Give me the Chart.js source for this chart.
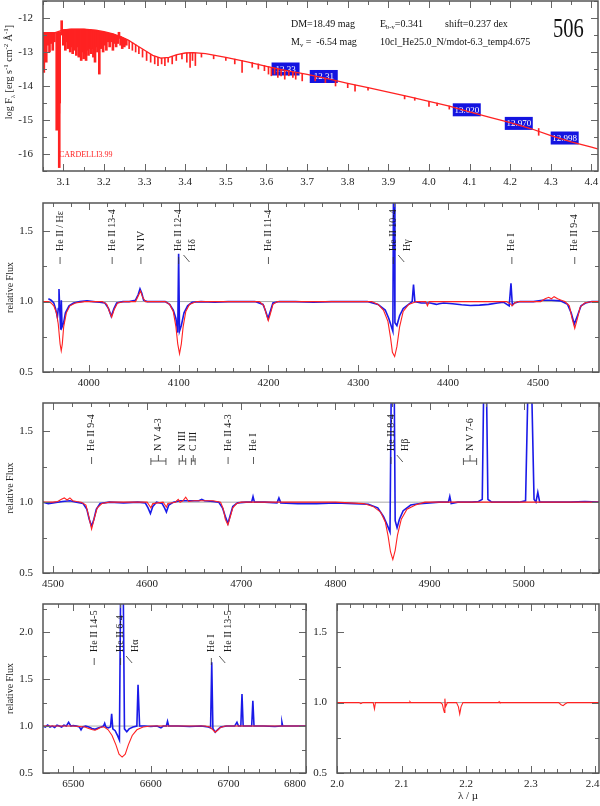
<!DOCTYPE html>
<html>
<head>
<meta charset="utf-8">
<script src="https://cdn.jsdelivr.net/npm/chart.js@4/dist/chart.umd.min.js"></script>
<style>
body { margin: 0; background: #fff; }
#wrap { position: relative; width: 600px; height: 806px; overflow: hidden; }
canvas { position: absolute; }
</style>
</head>
<body>
<div id="wrap">
  <canvas id="c1" width="600" height="195" style="left:0;top:0"></canvas>
  <canvas id="c2" width="600" height="200" style="left:0;top:195px"></canvas>
  <canvas id="c3" width="600" height="200" style="left:0;top:395px"></canvas>
  <canvas id="c4" width="320" height="211" style="left:0;top:595px"></canvas>
  <canvas id="c5" width="300" height="211" style="left:300px;top:595px"></canvas>
</div>
<script>
// ---- panel 1: SED, log F_lambda vs log lambda ----
const topLogLam = [3.05, 3.06, 3.08, 3.10, 3.12, 3.15, 3.18, 3.20, 3.22, 3.24, 3.26, 3.28, 3.30, 3.32, 3.34, 3.36, 3.38, 3.40, 3.42, 3.45,
  3.50, 3.55, 3.60, 3.65, 3.70, 3.75, 3.80, 3.85, 3.90, 3.95, 4.00, 4.05, 4.10, 4.15, 4.20, 4.25, 4.30, 4.35, 4.40, 4.415];
const topLogFlux = [-12.43, -12.43, -12.43, -12.35, -12.33, -12.33, -12.36, -12.40, -12.46, -12.54, -12.65, -12.80, -12.95, -13.10, -13.18, -13.16, -13.08, -13.03, -13.02, -13.05,
  -13.16, -13.28, -13.42, -13.55, -13.66, -13.78, -13.92, -14.05, -14.18, -14.31, -14.45, -14.59, -14.76, -14.92, -15.08, -15.25, -15.46, -15.64, -15.80, -15.85];

// absorption line forest: position, top and bottom of each line
const forestLam = [3.052, 3.055, 3.058, 3.062, 3.066, 3.070, 3.074, 3.078, 3.0838, 3.0865, 3.089, 3.090, 3.091, 3.096,
  3.100, 3.102, 3.105, 3.108, 3.111, 3.114, 3.117, 3.120, 3.123, 3.126, 3.129, 3.132, 3.135, 3.138, 3.141, 3.144, 3.147, 3.150, 3.153,
  3.156, 3.159, 3.162, 3.165, 3.168, 3.171, 3.174, 3.178, 3.181, 3.184, 3.1886, 3.192, 3.195, 3.198, 3.202, 3.206, 3.210, 3.214,
  3.218, 3.222, 3.226, 3.230, 3.234, 3.237, 3.241, 3.245, 3.250, 3.255, 3.262, 3.270, 3.278, 3.286, 3.295, 3.305, 3.315, 3.325,
  3.333, 3.342, 3.350, 3.358, 3.368, 3.378, 3.392, 3.404, 3.412, 3.418, 3.425, 3.44, 3.47, 3.50, 3.522, 3.54, 3.565, 3.58, 3.595,
  3.605, 3.612, 3.62, 3.628, 3.636, 3.645, 3.655, 3.665, 3.672, 3.688, 3.72, 3.745, 3.77, 3.80, 3.818, 3.85, 3.94, 3.965, 4.0,
  4.02, 4.05, 4.27];
const forestHigh = [-12.43, -12.43, -12.43, -12.43, -12.43, -12.43, -12.43, -12.43, -12.43, -12.43, -12.42, -12.42, -12.41, -12.08,
  -12.35, -12.35, -12.35, -12.34, -12.34, -12.33, -12.33, -12.33, -12.33, -12.33, -12.33, -12.33, -12.33, -12.33, -12.33, -12.33, -12.33, -12.33, -12.33,
  -12.34, -12.34, -12.35, -12.35, -12.35, -12.36, -12.36, -12.37, -12.37, -12.38, -12.39, -12.40, -12.40, -12.41, -12.42, -12.43, -12.44, -12.45,
  -12.46, -12.47, -12.49, -12.51, -12.52, -12.42, -12.55, -12.57, -12.60, -12.63, -12.67, -12.73, -12.79, -12.86, -12.93, -13.00, -13.07, -13.13,
  -13.16, -13.18, -13.18, -13.17, -13.13, -13.09, -13.05, -13.03, -13.02, -13.02, -13.03, -13.04, -13.10, -13.16, -13.21, -13.25, -13.31, -13.35, -13.40,
  -13.43, -13.45, -13.47, -13.49, -13.51, -13.54, -13.57, -13.60, -13.62, -13.65, -13.73, -13.79, -13.86, -13.92, -13.97, -14.05, -14.29, -14.35, -14.45,
  -14.50, -14.59, -15.25];
const forestLow = [-13.6, -12.9, -13.3, -12.8, -13.0, -12.75, -12.95, -12.7, -15.3, -12.9, -14.8, -16.4, -14.5, -12.5,
  -12.8, -12.75, -12.95, -12.7, -12.9, -12.8, -13.0, -12.85, -13.05, -12.8, -12.95, -13.1, -12.85, -13.15, -12.95, -13.25, -13.0, -13.2, -13.05,
  -13.25, -12.95, -13.1, -12.9, -13.05, -12.9, -13.15, -13.3, -12.85, -13.0, -13.65, -12.9, -12.75, -13.0, -12.8, -12.95, -12.7, -12.85,
  -12.7, -12.95, -12.75, -12.85, -12.75, -12.6, -12.8, -12.9, -12.85, -12.8, -12.9, -12.95, -13.0, -13.05, -13.15, -13.25, -13.3, -13.35,
  -13.4, -13.35, -13.4, -13.3, -13.35, -13.25, -13.2, -13.3, -13.45, -13.25, -13.4, -13.15, -13.2, -13.25, -13.35, -13.6, -13.45, -13.5, -13.55,
  -13.65, -13.7, -13.65, -13.75, -13.7, -13.8, -13.7, -13.75, -13.8, -13.85, -13.85, -13.9, -14.0, -14.05, -14.15, -14.12, -14.38, -14.42, -14.6,
  -14.58, -14.68, -15.45];
// lines bluer than this are blended into a dense forest
const forestDenseEnd = 3.26;

// photometry boxes
const photLogLam = [3.647, 3.741, 4.093, 4.221, 4.334];
const photLogFlux = [-13.50, -13.72, -14.70, -15.10, -15.53];
const photMag = ['12.33', '12.31', '13.020', '12.970', '12.998'];

const topXTicks = [3.1, 3.2, 3.3, 3.4, 3.5, 3.6, 3.7, 3.8, 3.9, 4.0, 4.1, 4.2, 4.3, 4.4];
const topYTicks = [-16, -15, -14, -13, -12];

// ---- panel 2: 3950-4570 A ----
const p2ModelLam = [3949, 3955, 3958, 3961, 3964, 3966, 3968, 3969.3, 3970.5, 3972, 3975, 3979, 3985, 3995, 4015, 4020, 4023, 4025.5, 4028, 4032,
  4040, 4052, 4055, 4057.5, 4060, 4063, 4085, 4090, 4094, 4097, 4099, 4101, 4103, 4105, 4108, 4112, 4120, 4190, 4195, 4198,
  4199.8, 4202, 4205, 4210, 4315, 4322, 4328, 4333, 4336, 4338, 4340.5, 4343, 4346, 4350, 4356, 4365, 4375, 4377, 4379, 4465,
  4469, 4471.5, 4474, 4478, 4503, 4508, 4512, 4515, 4518, 4522, 4526, 4530, 4535, 4538, 4541, 4544, 4547, 4552, 4560, 4568];
const p2Model = [1.0, 1.0, 0.99, 0.97, 0.92, 0.84, 0.70, 0.65, 0.70, 0.82, 0.92, 0.97, 0.99, 1.0, 1.0, 0.98, 0.93, 0.89, 0.94, 0.99,
  1.0, 1.0, 1.04, 1.075, 1.03, 1.0, 1.0, 0.98, 0.93, 0.82, 0.70, 0.63, 0.70, 0.82, 0.93, 0.98, 1.0, 1.0, 0.97, 0.90,
  0.865, 0.91, 0.98, 1.0, 1.0, 0.98, 0.94, 0.86, 0.74, 0.64, 0.61, 0.68, 0.82, 0.93, 0.98, 1.0, 1.0, 0.97, 1.0, 1.0,
  0.985, 0.97, 0.99, 1.0, 1.0, 1.02, 1.03, 1.02, 1.035, 1.02, 1.01, 1.0, 0.97, 0.88, 0.81, 0.88, 0.96, 0.99, 1.0, 1.0];
const p2ObsLam = [3955, 3958, 3961, 3963, 3965, 3966, 3966.8, 3967.6, 3968.7, 3969.4, 3970.2, 3972, 3974, 3978, 3983, 3990, 3998, 4005, 4012, 4018,
  4022, 4025, 4028, 4031, 4038, 4045, 4052, 4055, 4057, 4059, 4061, 4065, 4078, 4085, 4090, 4094, 4097, 4099, 4100, 4101,
  4103, 4106, 4110, 4115, 4125, 4140, 4155, 4170, 4185, 4194, 4197, 4199.5, 4202, 4205, 4212, 4230, 4250, 4270, 4290, 4310,
  4322, 4330, 4334, 4337, 4338.5, 4339.2, 4340, 4340.8, 4343, 4346, 4350, 4356, 4360, 4361.5, 4363, 4370, 4380, 4387, 4390, 4395,
  4405, 4415, 4425, 4435, 4445, 4455, 4462, 4468, 4470, 4471.5, 4474, 4480, 4495, 4505, 4515, 4525, 4533, 4537, 4540.5, 4544,
  4548, 4553, 4560, 4568];
const p2Obs = [1.02, 1.01, 0.99, 0.95, 0.89, 0.95, 1.09, 0.95, 0.80, 1.01, 0.82, 0.85, 0.92, 0.97, 0.99, 1.0, 1.005, 1.0, 0.995, 0.99,
  0.95, 0.895, 0.95, 0.99, 1.0, 1.0, 1.01, 1.05, 1.09, 1.06, 1.01, 1.0, 1.0, 1.0, 0.98, 0.94, 0.88, 0.78, 1.34, 0.79,
  0.83, 0.92, 0.97, 0.995, 1.0, 0.995, 1.0, 1.0, 1.0, 0.98, 0.93, 0.88, 0.93, 0.99, 1.0, 1.0, 0.995, 1.0, 1.0, 1.0,
  0.98, 0.94, 0.88, 0.82, 0.79, 1.8, 1.8, 0.85, 0.83, 0.90, 0.95, 0.98, 1.0, 1.12, 1.0, 0.99, 0.99, 0.98, 0.985, 0.99,
  0.985, 0.977, 0.972, 0.975, 0.98, 0.99, 0.995, 0.97, 1.13, 0.975, 0.99, 1.0, 1.0, 1.01, 1.01, 1.005, 0.98, 0.92, 0.84, 0.90,
  0.97, 0.99, 1.0, 1.0];
const p2XTicks = [4000, 4100, 4200, 4300, 4400, 4500];
const p2Ids = [[3968, 'He II / H\u03b5'], [4026, 'He II 13-4'], [4058, 'N IV'], [4100, 'He II 12-4'], [4101, 'H\u03b4', 'off'],
  [4200, 'He II 11-4'], [4339, 'He II 10-4'], [4340, 'H\u03b3', 'off'], [4471, 'He I'], [4541, 'He II 9-4']];

// ---- panel 3: 4490-5080 A ----
const p3ModelLam = [4489, 4500, 4505, 4509, 4512, 4515, 4518, 4521, 4525, 4530, 4535, 4538, 4541, 4544, 4547, 4552, 4560, 4600, 4602, 4604,
  4606, 4617, 4619, 4620.5, 4622, 4630, 4633, 4635, 4638, 4641, 4644, 4650, 4660, 4670, 4678, 4681, 4683, 4685.8, 4688, 4691,
  4695, 4700, 4760, 4800, 4830, 4840, 4848, 4853, 4856, 4858.5, 4861, 4863.5, 4866, 4870, 4876, 4885, 4895, 5000, 5081];
const p3Model = [1.0, 1.0, 1.005, 1.02, 1.03, 1.015, 1.03, 1.01, 1.005, 1.0, 0.98, 0.90, 0.81, 0.89, 0.96, 0.99, 1.0, 1.0, 0.98, 0.96,
  0.99, 1.0, 0.98, 0.965, 0.99, 1.0, 1.02, 1.0, 1.01, 1.035, 1.005, 1.01, 1.01, 1.01, 1.0, 0.95, 0.88, 0.84, 0.89, 0.96,
  0.99, 1.0, 1.0, 1.0, 0.99, 0.97, 0.93, 0.86, 0.76, 0.65, 0.595, 0.66, 0.77, 0.88, 0.95, 0.98, 1.0, 1.0, 1.0];
const p3ObsLam = [4489, 4495, 4500, 4505, 4510, 4518, 4525, 4532, 4536, 4538.5, 4541, 4543.5, 4546, 4550, 4560, 4575, 4590, 4598, 4601, 4603.5,
  4606, 4610, 4616, 4618.5, 4620.5, 4623, 4628, 4635, 4645, 4655, 4658, 4661, 4670, 4676, 4680, 4683, 4685.8, 4688, 4691, 4696,
  4705, 4711, 4712.5, 4714, 4725, 4738, 4740, 4742, 4760, 4780, 4800, 4820, 4835, 4845, 4851, 4855, 4858, 4859.3, 4862.5, 4863.5,
  4865.5, 4868, 4872, 4880, 4890, 4900, 4910, 4920, 4921.5, 4923, 4930, 4945, 4952, 4956, 4957.5, 4960.5, 4962, 4966, 4980, 4995,
  5002, 5004.5, 5008.5, 5011, 5013, 5015, 5017, 5030, 5050, 5065, 5081];
const p3Obs = [1.0, 0.99, 0.995, 1.0, 1.005, 1.01, 1.0, 0.99, 0.95, 0.88, 0.83, 0.88, 0.95, 0.99, 1.0, 0.995, 1.0, 0.995, 0.96, 0.92,
  0.97, 1.0, 0.99, 0.96, 0.93, 0.98, 1.0, 1.01, 1.01, 1.01, 1.02, 1.01, 1.005, 1.0, 0.96, 0.90, 0.85, 0.90, 0.97, 0.995,
  1.0, 1.0, 1.04, 1.0, 1.0, 0.995, 1.03, 0.995, 0.99, 0.99, 0.995, 0.99, 0.985, 0.96, 0.90, 0.84, 0.79, 1.8, 1.8, 0.87,
  0.82, 0.88, 0.94, 0.98, 0.99, 0.995, 1.0, 1.0, 1.04, 0.99, 1.0, 1.0, 1.005, 1.02, 1.8, 1.8, 1.02, 1.0, 1.0, 1.0,
  1.01, 1.8, 1.8, 1.02, 1.0, 1.07, 1.0, 1.0, 1.0, 1.005, 1.0];
const p3XTicks = [4500, 4600, 4700, 4800, 4900, 5000];
const p3Ids = [[4541, 'He II 9-4'], [4604, 'N V 4-3', 4620], [4634, 'N III', 4641], [4647, 'C III', 4651], [4686, 'He II 4-3'],
  [4713, 'He I'], [4859, 'He II 8-4'], [4861, 'H\u03b2', 'off'], [4936, 'N V 7-6', 4950]];

// ---- panel 4: 6460-6800 A ----
const p4ModelLam = [6461, 6500, 6515, 6520, 6525, 6528, 6531, 6536, 6540, 6545, 6550, 6555, 6559, 6563, 6567, 6571, 6576, 6582, 6590, 6600,
  6670, 6676, 6680, 6683, 6686, 6690, 6696, 6800];
const p4Model = [1.0, 1.0, 0.99, 0.975, 0.96, 0.955, 0.965, 0.99, 0.99, 0.96, 0.90, 0.80, 0.70, 0.67, 0.70, 0.80, 0.90, 0.96, 0.99, 1.0,
  1.0, 0.99, 0.96, 0.935, 0.955, 0.985, 1.0, 1.0];
const p4ObsLam = [6461, 6464, 6467, 6470, 6473, 6476, 6479, 6482, 6485, 6488, 6491, 6494, 6497, 6500, 6504, 6508, 6510, 6512, 6516, 6520,
  6524, 6528, 6532, 6536, 6539, 6540.5, 6542, 6545, 6548, 6549.5, 6551, 6554, 6557, 6559.5, 6561, 6564.5, 6566, 6569, 6572, 6577,
  6582, 6583.5, 6585.5, 6592, 6600, 6608, 6613, 6616, 6620, 6621.5, 6623, 6635, 6650, 6665, 6674, 6677, 6678.5, 6680, 6683, 6686,
  6690, 6698, 6708, 6711, 6713, 6716, 6717.5, 6719, 6725, 6730, 6731.5, 6733, 6745, 6760, 6768, 6769, 6770, 6785, 6800];
const p4Obs = [1.0, 0.99, 1.01, 0.99, 1.0, 0.985, 1.01, 1.0, 0.99, 1.01, 1.0, 1.04, 1.0, 1.005, 1.0, 0.99, 0.96, 0.99, 1.0, 0.99,
  0.975, 0.965, 0.98, 0.99, 1.0, 1.03, 0.99, 0.98, 0.99, 1.13, 0.97, 0.95, 0.90, 0.85, 2.4, 2.4, 0.97, 0.94, 0.97, 0.99,
  1.0, 1.44, 1.0, 1.0, 0.995, 1.0, 0.98, 1.0, 1.0, 1.05, 1.0, 1.0, 0.995, 1.0, 0.99, 0.98, 1.68, 0.975, 0.935, 0.96,
  0.99, 1.0, 1.0, 1.04, 1.0, 1.0, 1.34, 1.0, 1.0, 1.0, 1.27, 1.0, 1.0, 0.995, 1.0, 1.04, 1.0, 1.0, 1.0];
const p4XTicks = [6500, 6600, 6700, 6800];
const p4Ids = [[6527, 'He II 14-5'], [6561, 'He II 6-4'], [6563, 'H\u03b1', 'off'], [6678, 'He I'], [6683, 'He II 13-5', 'off']];

// ---- panel 5: K band, micron ----
const p5ModelLam = [2.0, 2.034, 2.037, 2.040, 2.056, 2.058, 2.0595, 2.08, 2.112, 2.113, 2.114, 2.16, 2.163, 2.165, 2.1663, 2.167, 2.168, 2.171,
  2.185, 2.188, 2.19, 2.192, 2.195, 2.25, 2.251, 2.252, 2.343, 2.347, 2.35, 2.353, 2.357, 2.406];
const p5Model = [1.0, 1.0, 0.993, 1.0, 1.0, 0.955, 1.0, 1.0, 1.0, 1.006, 1.0, 1.0, 0.99, 0.95, 0.93, 1.028, 0.97, 1.0,
  1.0, 0.97, 0.92, 0.97, 1.0, 1.0, 1.006, 1.0, 1.0, 0.985, 0.978, 0.99, 1.0, 1.0];
const p5XTicks = [2.0, 2.1, 2.2, 2.3, 2.4];

const relYTicks = [0.5, 1.0, 1.5];
const p4YTicks = [0.5, 1.0, 1.5, 2.0];

const RED = '#ff2222';
const BLUE = '#1a1ae8';
const serif = '"Liberation Serif", "Times New Roman", serif';
Chart.defaults.font.family = serif;
Chart.defaults.color = '#222';
Chart.defaults.animation = false;

function pts(xs, ys) {
  return xs.map((x, i) => ({x: x, y: ys[i]}));
}

// box, inner tick marks and unity line
const framePlugin = {
  id: 'frame',
  beforeDatasetsDraw(chart, args, opts) {
    if (!opts.unity) return;
    const {ctx, chartArea: a, scales: {y}} = chart;
    const py = y.getPixelForValue(1);
    ctx.save();
    ctx.strokeStyle = '#a8a8a8';
    ctx.lineWidth = 1;
    ctx.beginPath();
    ctx.moveTo(a.left, py);
    ctx.lineTo(a.right, py);
    ctx.stroke();
    ctx.restore();
  },
  afterDraw(chart, args, opts) {
    const {ctx, chartArea: a, scales: {x, y}} = chart;
    ctx.save();
    ctx.strokeStyle = '#666';
    ctx.lineWidth = 1;
    ctx.beginPath();
    const n0 = Math.ceil(x.min / opts.xMinor - 1e-6), n1 = Math.floor(x.max / opts.xMinor + 1e-6);
    for (let n = n0; n <= n1; n++) {
      const v = n * opts.xMinor;
      const major = Math.abs(v / opts.xMajor - Math.round(v / opts.xMajor)) < 1e-6;
      const len = major ? 7 : 4;
      const px = Math.round(x.getPixelForValue(v)) + 0.5;
      ctx.moveTo(px, a.bottom); ctx.lineTo(px, a.bottom - len);
      ctx.moveTo(px, a.top); ctx.lineTo(px, a.top + len);
    }
    const m0 = Math.ceil(y.min / opts.yMinor - 1e-6), m1 = Math.floor(y.max / opts.yMinor + 1e-6);
    for (let n = m0; n <= m1; n++) {
      const v = n * opts.yMinor;
      const major = Math.abs(v / opts.yMajor - Math.round(v / opts.yMajor)) < 1e-6;
      const len = major ? 7 : 4;
      const py = Math.round(y.getPixelForValue(v)) + 0.5;
      ctx.moveTo(a.left, py); ctx.lineTo(a.left + len, py);
      ctx.moveTo(a.right, py); ctx.lineTo(a.right - len, py);
    }
    ctx.stroke();
    ctx.strokeStyle = '#555';
    ctx.lineWidth = 1.5;
    ctx.strokeRect(a.left, a.top, a.right - a.left, a.bottom - a.top);
    ctx.restore();
  }
};

// vertical line identifications
const idPlugin = {
  id: 'lineIds',
  afterDatasetsDraw(chart, args, opts) {
    if (!opts.items) return;
    const {ctx, chartArea: a, scales: {x}} = chart;
    const seg = (x1, y1, x2, y2) => { ctx.moveTo(x1, y1); ctx.lineTo(x2, y2); };
    const label = (tx, text) => {
      ctx.save();
      ctx.translate(tx, a.top + 48);
      ctx.rotate(-Math.PI / 2);
      ctx.fillText(text, 0, 0);
      ctx.restore();
    };
    ctx.save();
    ctx.strokeStyle = '#333';
    ctx.fillStyle = '#1a1a1a';
    ctx.lineWidth = 0.8;
    ctx.font = '10px ' + serif;
    ctx.textAlign = 'left';
    ctx.textBaseline = 'middle';
    ctx.beginPath();
    for (const [w, text, kind] of opts.items) {
      const px = x.getPixelForValue(w);
      if (typeof kind === 'number') {
        const p2 = x.getPixelForValue(kind);
        const mid = (px + p2) / 2;
        seg(px, a.top + 55, px, a.top + 62);
        seg(p2, a.top + 55, p2, a.top + 62);
        seg(px, a.top + 58, p2, a.top + 58);
        seg(mid, a.top + 52, mid, a.top + 58);
        label(mid, text);
      } else if (kind === 'off') {
        seg(px + 4, a.top + 52, px + 10, a.top + 59);
        label(px + 13, text);
      } else {
        seg(px, a.top + 54, px, a.top + 61);
        label(px, text);
      }
    }
    ctx.stroke();
    ctx.restore();
  }
};

function rich(ctx, parts, x, y, measureOnly) {
  let cx = x;
  for (const [t, size, dy] of parts) {
    ctx.font = size + 'px ' + serif;
    if (!measureOnly) ctx.fillText(t, cx, y + dy);
    cx += ctx.measureText(t).width;
  }
  return cx - x;
}

// photometry boxes and header text of the SED panel
const sedPlugin = {
  id: 'sed',
  beforeDatasetsDraw(chart) {
    const {ctx} = chart;
    const idx = chart.data.datasets.findIndex(d => d.type === 'scatter');
    const meta = chart.getDatasetMeta(idx);
    ctx.save();
    ctx.textAlign = 'center';
    ctx.textBaseline = 'middle';
    ctx.font = '9px ' + serif;
    meta.data.forEach((pt, i) => {
      ctx.fillStyle = '#1414e0';
      ctx.fillRect(pt.x - 14, pt.y - 6.5, 28, 13);
      ctx.fillStyle = '#fff';
      ctx.fillText(photMag[i], pt.x, pt.y + 0.5);
    });
    ctx.restore();
  },
  afterDraw(chart) {
    const {ctx} = chart;
    ctx.save();
    ctx.fillStyle = '#111';
    ctx.textBaseline = 'alphabetic';
    rich(ctx, [['DM=18.49 mag', 10, 0]], 291, 27);
    rich(ctx, [['E', 10, 0], ['b-v', 6.5, 2], ['=0.341', 10, 0]], 380, 27);
    rich(ctx, [['shift=0.237 dex', 10, 0]], 445, 27);
    rich(ctx, [['M', 10, 0], ['v', 6.5, 2], [' =  -6.54 mag', 10, 0]], 291, 45);
    rich(ctx, [['10cl_He25.0_N/mdot-6.3_temp4.675', 10, 0]], 380, 45);
    ctx.save();
    ctx.translate(553, 37);
    ctx.scale(0.76, 1);
    ctx.font = '27px ' + serif;
    ctx.fillText('506', 0, 0);
    ctx.restore();
    ctx.fillStyle = RED;
    ctx.font = '8px ' + serif;
    ctx.fillText('CARDELLI3.99', 59, 157);
    // y axis title with sub/superscripts
    const title = [['log F', 10, 0], ['\u03bb', 7, 2.5], [' [erg s', 10, 0], ['-1', 7, -4], [' cm', 10, 0], ['-2', 7, -4],
      [' \u00c5', 10, 0], ['-1', 7, -4], [']', 10, 0]];
    const w = rich(ctx, title, 0, 0, true);
    ctx.fillStyle = '#1a1a1a';
    ctx.translate(12, 72);
    ctx.rotate(-Math.PI / 2);
    rich(ctx, title, -w / 2, 0);
    ctx.restore();
  }
};

Chart.register(framePlugin, idPlugin);

function scalesFor(o) {
  return {
    x: {
      type: 'linear', min: o.xMin, max: o.xMax, offset: false,
      grid: {display: false, drawTicks: false}, border: {display: false},
      ticks: {font: {size: 11}, padding: 5, maxRotation: 0, autoSkip: false, callback: o.xFmt},
      afterBuildTicks: s => { s.ticks = o.xTicks.map(v => ({value: v})); },
      afterFit: s => { s.height = o.xH; s.paddingLeft = 0; s.paddingRight = 0; },
      title: o.xTitle ? {display: true, text: o.xTitle, font: {size: 11}, padding: {top: 0, bottom: 3}} : {display: false}
    },
    y: {
      type: 'linear', min: o.yMin, max: o.yMax,
      grid: {display: false, drawTicks: false}, border: {display: false},
      ticks: {font: {size: 11}, padding: 10, callback: o.yFmt},
      afterBuildTicks: s => { s.ticks = o.yTicks.map(v => ({value: v})); },
      afterFit: s => { s.width = o.yW; s.paddingTop = 0; s.paddingBottom = 0; },
      title: o.yTitle ? {display: true, text: o.yTitle, font: {size: 10}, padding: {top: 4, bottom: 0}} : {display: false}
    }
  };
}

const one = v => v.toFixed(1);
const plain = v => String(v);
// the label at the right edge of a small panel is pushed inside the frame
const EN = '\u2002';
const p4Fmt = v => v === 6800 ? '6800' + EN + EN + EN + EN : String(v);
const p5Fmt = v => v === 2.4 ? '2.4' + EN : v.toFixed(1);

function lineSet(xs, ys, color, width) {
  return {type: 'line', data: pts(xs, ys), borderColor: color, borderWidth: width,
    pointRadius: 0, tension: 0, fill: false};
}

function forestSet(dense, thickness) {
  const data = [];
  forestLam.forEach((x, i) => {
    if ((x < forestDenseEnd) === dense) data.push({x: x, y: [forestHigh[i], forestLow[i]]});
  });
  return {type: 'bar', data: data, backgroundColor: RED, borderWidth: 0, barThickness: thickness, grouped: false};
}

// panel 1
new Chart(document.getElementById('c1'), {
  type: 'line',
  data: {
    datasets: [
      lineSet(topLogLam, topLogFlux, RED, 1.3),
      forestSet(true, 2),
      forestSet(false, 1),
      {type: 'scatter', data: pts(photLogLam, photLogFlux), pointRadius: 0, showLine: false}
    ]
  },
  options: {
    responsive: false,
    layout: {padding: {top: 1, right: 2, left: 0, bottom: 0}},
    plugins: {legend: {display: false}, tooltip: {enabled: false},
      frame: {xMajor: 0.1, xMinor: 0.05, yMajor: 1, yMinor: 0.5}},
    scales: scalesFor({xMin: 3.05, xMax: 4.416, xTicks: topXTicks, xFmt: one, xH: 24,
      yMin: -16.5, yMax: -11.5, yTicks: topYTicks, yFmt: plain, yW: 43})
  },
  plugins: [sedPlugin]
});

function relPanel(id, model, obs, o) {
  const sets = [lineSet(model[0], model[1], RED, 1.1)];
  if (obs) sets.push(lineSet(obs[0], obs[1], BLUE, 1.6));
  return new Chart(document.getElementById(id), {
    type: 'line',
    data: {datasets: sets},
    options: {
      responsive: false,
      layout: {padding: o.pad},
      plugins: {legend: {display: false}, tooltip: {enabled: false},
        frame: {xMajor: o.xMajor, xMinor: o.xMinor, yMajor: 0.5, yMinor: 0.25, unity: true},
        lineIds: {items: o.ids}},
      scales: scalesFor(o)
    }
  });
}

relPanel('c2', [p2ModelLam, p2Model], [p2ObsLam, p2Obs], {
  pad: {top: 8, right: 1, left: 0, bottom: 0}, ids: p2Ids, xMajor: 100, xMinor: 20,
  xMin: 3949, xMax: 4568, xTicks: p2XTicks, xFmt: plain, xH: 23,
  yMin: 0.5, yMax: 1.7, yTicks: relYTicks, yFmt: one, yW: 43, yTitle: 'relative Flux'
});

relPanel('c3', [p3ModelLam, p3Model], [p3ObsLam, p3Obs], {
  pad: {top: 8, right: 1, left: 0, bottom: 0}, ids: p3Ids, xMajor: 100, xMinor: 20,
  xMin: 4489.4, xMax: 5080, xTicks: p3XTicks, xFmt: plain, xH: 22,
  yMin: 0.5, yMax: 1.7, yTicks: relYTicks, yFmt: one, yW: 43, yTitle: 'relative Flux'
});

relPanel('c4', [p4ModelLam, p4Model], [p4ObsLam, p4Obs], {
  pad: {top: 9, right: 14, left: 0, bottom: 0}, ids: p4Ids, xMajor: 100, xMinor: 20,
  xMin: 6461, xMax: 6800, xTicks: p4XTicks, xFmt: p4Fmt, xH: 33,
  yMin: 0.5, yMax: 2.3, yTicks: p4YTicks, yFmt: one, yW: 43, yTitle: 'relative Flux'
});

relPanel('c5', [p5ModelLam, p5Model], null, {
  pad: {top: 9, right: 1, left: 0, bottom: 0}, ids: null, xMajor: 0.1, xMinor: 0.02,
  xMin: 2.0, xMax: 2.4056, xTicks: p5XTicks, xFmt: p5Fmt, xH: 33, xTitle: '\u03bb / \u00b5',
  yMin: 0.5, yMax: 1.7, yTicks: relYTicks, yFmt: one, yW: 37
});
</script>
</body>
</html>
